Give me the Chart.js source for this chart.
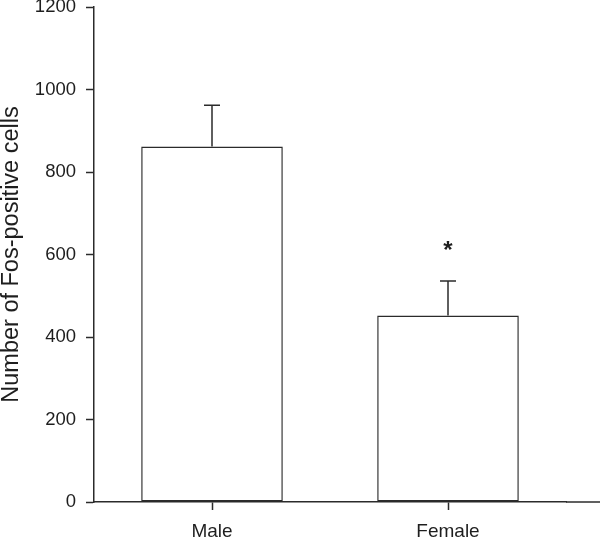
<!DOCTYPE html>
<html>
<head>
<meta charset="utf-8">
<script src="https://cdn.jsdelivr.net/npm/chart.js@4"></script>
<style>
  html, body { margin: 0; padding: 0; background: #fff; }
  #wrap { width: 600px; height: 538px; }
</style>
</head>
<body>
<div id="wrap"><canvas id="fos-chart"></canvas></div>
<script>
const groups = ["Male", "Female"];
const fosMeans = [862, 452];
const fosErrors = [100, 84];
const sigMarks = ["", "*"];
const yTicks = [0, 200, 400, 600, 800, 1000, 1200];

const lineColor = "#2b2b2b";
const textColor = "#1e1e1e";

// error bars (upper only), significance marks, and the x axis line running to the edge
const errorBars = {
  id: "errorBars",
  afterDraw(chart) {
    const ctx = chart.ctx;
    const meta = chart.getDatasetMeta(0);
    const yScale = chart.scales.y;
    const base = yScale.getPixelForValue(0);
    ctx.save();
    ctx.strokeStyle = lineColor;
    ctx.lineWidth = 1.5;
    meta.data.forEach((bar, i) => {
      const top = yScale.getPixelForValue(fosMeans[i] + fosErrors[i]);
      ctx.beginPath();
      ctx.moveTo(bar.x, bar.y);
      ctx.lineTo(bar.x, top);
      ctx.moveTo(bar.x - 8, top);
      ctx.lineTo(bar.x + 8, top);
      ctx.stroke();
      if (sigMarks[i]) {
        ctx.fillStyle = textColor;
        ctx.font = "bold 24px 'Liberation Sans', Arial, sans-serif";
        ctx.textAlign = "center";
        ctx.textBaseline = "alphabetic";
        ctx.fillText(sigMarks[i], bar.x, top - 23);
      }
    });
    ctx.beginPath();
    ctx.moveTo(chart.chartArea.right, base);
    ctx.lineTo(chart.width, base);
    ctx.stroke();
    ctx.restore();
  },
};

new Chart(document.getElementById("fos-chart"), {
  type: "bar",
  data: {
    labels: groups,
    datasets: [
      {
        data: fosMeans,
        backgroundColor: "#ffffff",
        borderColor: lineColor,
        borderWidth: 1.5,
        borderSkipped: false,
        barPercentage: 0.6,
        categoryPercentage: 1,
      },
    ],
  },
  options: {
    responsive: true,
    maintainAspectRatio: false,
    animation: false,
    layout: {
      padding: { top: 0, right: 34, bottom: 0, left: 0 },
    },
    plugins: {
      legend: { display: false },
      tooltip: { enabled: false },
    },
    scales: {
      x: {
        afterFit(scale) {
          scale.height = 36;
        },
        grid: {
          display: true,
          offset: false,
          drawOnChartArea: false,
          drawTicks: true,
          tickLength: 8,
          tickColor: lineColor,
          tickWidth: 1.5,
        },
        border: { display: true, color: lineColor, width: 1.5 },
        ticks: {
          color: textColor,
          padding: 10,
          font: { family: "'Liberation Sans', Arial, sans-serif", size: 19 },
        },
      },
      y: {
        min: 0,
        max: 1200,
        afterBuildTicks(scale) {
          scale.ticks = yTicks.map((v) => ({ value: v }));
        },
        afterFit(scale) {
          scale.width = 94;
          scale.paddingTop = 7;
          scale.paddingBottom = 0;
        },
        grid: {
          display: true,
          drawOnChartArea: false,
          tickLength: 8,
          tickColor: lineColor,
          tickWidth: 1.5,
        },
        border: { color: lineColor, width: 1.5 },
        ticks: {
          color: textColor,
          padding: 10,
          callback: (v) => String(v),
          font: { family: "'Liberation Sans', Arial, sans-serif", size: 18.5 },
        },
        title: {
          display: true,
          text: "Number of Fos-positive cells",
          color: textColor,
          padding: { top: 0, bottom: 10 },
          font: { family: "'Liberation Sans', Arial, sans-serif", size: 23.5, lineHeight: 1 },
        },
      },
    },
  },
  plugins: [errorBars],
});
</script>
</body>
</html>
